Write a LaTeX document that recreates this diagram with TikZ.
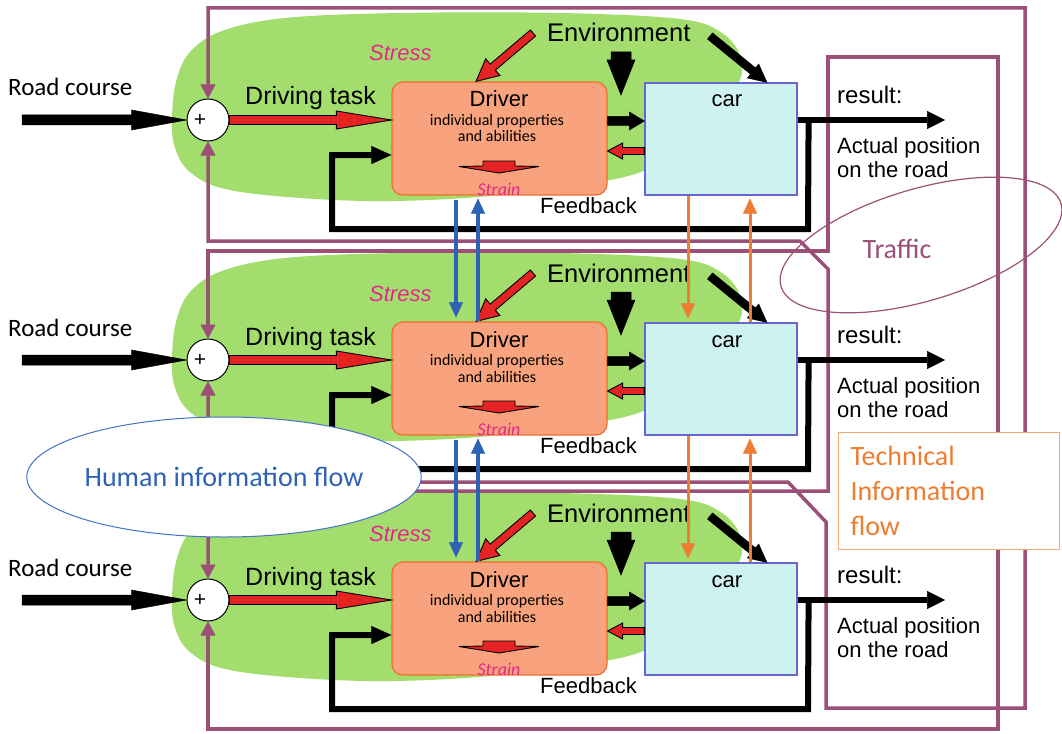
\documentclass[tikz,border=0pt]{standalone}
\usepackage{fontspec}
\setmainfont{Liberation Sans}
\newfontfamily\calfont{Carlito}
\usetikzlibrary{arrows.meta,calc,shapes.geometric}

\definecolor{purp}{RGB}{155,80,120}
\definecolor{leaf}{RGB}{163,221,110}
\definecolor{drvfill}{RGB}{248,163,125}
\definecolor{drvline}{RGB}{242,110,45}
\definecolor{carfill}{RGB}{205,242,239}
\definecolor{carline}{RGB}{102,102,204}
\definecolor{redarr}{RGB}{228,36,36}
\definecolor{mag}{RGB}{228,40,140}
\definecolor{hblue}{RGB}{46,98,181}
\definecolor{hline}{RGB}{68,114,196}
\definecolor{torange}{RGB}{237,125,49}
\definecolor{tline}{RGB}{246,170,115}

\tikzset{
  % filled block arrow drawn as a polygon from start to target:
  % #1 = half shaft width, #2 = half head width, #3 = head length (pt)
  blockarrow/.style n args={3}{to path={
    let \p1=(\tikztostart), \p2=(\tikztotarget),
        \n1={atan2(\y2-\y1,\x2-\x1)}, \n2={veclen(\x2-\x1,\y2-\y1)} in
    {[shift={(\p1)}, rotate=\n1]
      (0pt,#1pt) -- ({\n2-#3pt},#1pt) -- ({\n2-#3pt},#2pt) -- ({\n2+0pt},0pt)
      -- ({\n2-#3pt},-#2pt) -- ({\n2-#3pt},-#1pt) -- (0pt,-#1pt) -- cycle}}},
  solidarrow/.style={draw=black, fill=black, line width=0.5pt, line join=miter},
  outlinedarrow/.style={draw=black, fill=redarr, line width=0.9pt, line join=miter},
  sumc/.style={circle, draw=black, line width=1pt, fill=white, minimum size=42pt, inner sep=0pt},
  drvbox/.style={rectangle, rounded corners=11pt, draw=drvline, fill=drvfill, line width=1.2pt,
                 minimum width=215pt, minimum height=113pt, inner sep=0pt},
  carbox/.style={rectangle, draw=carline, fill=carfill, line width=1.2pt,
                 minimum width=152pt, minimum height=112pt, inner sep=0pt},
  purpline/.style={draw=purp, line width=3.5pt, line join=miter,
                   {Triangle[length=14pt,width=15pt,line width=0.5pt]}-{Triangle[length=14pt,width=15pt,line width=0.5pt]}},
  fbline/.style={line width=6pt, line join=miter, -{Triangle[length=20pt,width=18pt,line width=0.5pt]}},
  resline/.style={line width=6pt, -{Triangle[length=18pt,width=18pt,line width=0.5pt]}},
  bluearr/.style={draw=hblue, line width=3.5pt, -{Triangle[length=15pt,width=14pt,line width=0.5pt]}},
  orangearr/.style={draw=torange, line width=3pt, -{Triangle[length=15pt,width=14pt,line width=0.5pt]}},
  txt/.style={inner sep=0pt},
}

\begin{document}
\begin{tikzpicture}[x=1pt,y=-1pt]
\useasboundingbox (0,0) rectangle (1062,733);
\fill[white] (0,0) rectangle (1062,733);

% green "stress" areas behind each control loop
\foreach \k in {0,1,2}{
  \fill[leaf, shift={(0,240*\k)}] plot[smooth cycle, tension=0.6] coordinates {
    (172,120) (176,82) (190,52) (222,31) (285,18) (400,13) (560,13) (680,19)
    (722,33) (741,58) (737,86) (705,125) (665,158) (620,178) (500,195)
    (393,201) (300,198) (225,189) (190,172) (175,148)};
}

% summing points, drivers and cars
\foreach \k in {0,1,2}{
  \pgfmathsetmacro\dy{240*\k}
  \node[sumc] (sum\k) at (208,{120+\dy}) {};
  \node[drvbox] (drv\k) at (499.5,{138.5+\dy}) {};
  \node[carbox] (car\k) at (721,{139+\dy}) {};
}

% traffic coupling between the three loops
\draw[purpline] (sum0.north) -- (208,8) -- (1025,8) -- (1025,708) -- (826,708)
  -- (826,522) -- (788,482) -- (208,482) -- (sum1.south);
\draw[purpline] (sum0.south) -- (208,241) -- (800,241) -- (828,269)
  -- (828,491) -- (208,491) -- (sum2.north);
\draw[purpline] (sum1.north) -- (208,251) -- (828,251) -- (828,57)
  -- (998,57) -- (998,729) -- (208,729) -- (sum2.south);

% one driver-car control loop
\foreach \k in {0,1,2}{
  \pgfmathsetmacro\dy{240*\k}
  \coordinate (rc\k) at (22,{120+\dy});
  \coordinate (res\k) at (945,{120+\dy});
  \coordinate (envr\k) at (533,{33+\dy});
  \coordinate (envd\k) at (621,{52+\dy});
  \coordinate (envdt\k) at (621,{95+\dy});
  \coordinate (envc\k) at (710,{36+\dy});

  \node[txt, font=\fontsize{21}{24}\selectfont] (plus\k) at (200,{120+\dy}) {+};

  \draw[solidarrow, blockarrow={5}{10}{55}] (rc\k) to (sum\k.west);
  \draw[outlinedarrow, blockarrow={4.5}{9}{55}] (sum\k.east) to ([yshift=18.5pt]drv\k.west);

  \draw[resline] ([yshift=19pt]car\k.east) -- (res\k);
  \draw[fbline] ([xshift=11pt,yshift=19pt]car\k.east) -- (808,{229+\dy}) -- (332,{229+\dy})
    -- (332,{155+\dy}) -- ([yshift=-16.5pt]drv\k.west);

  \draw[outlinedarrow, blockarrow={4}{11}{22}] (envr\k) to ([xshift=-23.5pt]drv\k.north);
  \draw[solidarrow, blockarrow={10}{14}{35}] (envd\k) to (envdt\k);
  \draw[solidarrow, blockarrow={4}{9}{18}] (envc\k) to ([xshift=46pt]car\k.north);

  \draw[solidarrow, blockarrow={4.5}{9}{15}] ([yshift=17.5pt]drv\k.east) to ([yshift=18pt]car\k.west);
  \draw[outlinedarrow, blockarrow={3.5}{8}{15}] ([yshift=-12pt]car\k.west) to ([yshift=-12.5pt]drv\k.east);

  % strain arrow inside the driver box
  \draw[outlinedarrow] (483,{161+\dy}) -- (515,{161+\dy}) -- (515,{166+\dy}) -- (539,{166.5+\dy})
    -- (499,{173+\dy}) -- (459,{166.5+\dy}) -- (483,{166+\dy}) -- cycle;

  \node[txt, font=\calfont\fontsize{25}{28}\selectfont, anchor=base west] (road\k) at (8,{96+\dy}) {Road course};
  \node[txt, font=\fontsize{25}{30}\selectfont, anchor=base west] (task\k) at (245,{105+\dy}) {Driving task};
  \node[txt, font=\itshape\fontsize{22}{26}\selectfont, text=mag, anchor=base west] (stress\k) at (369,{61+\dy}) {Stress};
  \node[txt, font=\fontsize{25.5}{30}\selectfont, anchor=base west] (env\k) at (547,{42+\dy}) {Environment};
  \node[txt, font=\fontsize{22}{26}\selectfont, anchor=base] (dname\k) at (499,{107+\dy}) {Driver};
  \node[txt, font=\calfont\fontsize{16}{18}\selectfont, anchor=base] (prop\k) at (497,{125+\dy}) {individual properties};
  \node[txt, font=\calfont\fontsize{16}{18}\selectfont, anchor=base] (abil\k) at (497,{142+\dy}) {and abilities};
  \node[txt, font=\calfont\itshape\fontsize{18}{20}\selectfont, text=mag, anchor=base] (strain\k) at (499,{195+\dy}) {Strain};
  \node[txt, font=\fontsize{22}{26}\selectfont, anchor=base] (ctext\k) at (727,{107+\dy}) {car};
  \node[txt, font=\fontsize{24}{28}\selectfont, anchor=base west] (resl\k) at (837,{103+\dy}) {result:};
  \node[txt, font=\fontsize{22}{24}\selectfont, anchor=north west, align=left] (pos\k) at (837,{137+\dy}) {Actual position\\on the road};
  \node[txt, font=\fontsize{22}{26}\selectfont, anchor=base west] (fb\k) at (540,{213+\dy}) {Feedback};
}

% information exchanged between neighbouring loops
\foreach \k/\j in {0/1,1/2}{
  \draw[bluearr, shorten <=4pt, shorten >=4pt] ([xshift=-43.5pt]drv\k.south) -- ([xshift=-43.5pt]drv\j.north);
  \draw[bluearr, shorten >=3pt] ([xshift=-21.5pt]drv\j.north) -- ([xshift=-21.5pt]drv\k.south);
  \draw[orangearr, shorten >=4pt] ([xshift=-33pt]car\k.south) -- ([xshift=-33pt]car\j.north);
  \draw[orangearr, shorten >=3pt] ([xshift=29pt]car\j.north) -- ([xshift=29pt]car\k.south);
}

% annotations
\node[ellipse, draw=hline, fill=white, line width=1pt, minimum width=394pt, minimum height=120pt,
      inner sep=0pt, text=hblue, font=\calfont\fontsize{28}{32}\selectfont] (human) at (224,477) {Human information flow};

\node[ellipse, draw=purp, line width=1.2pt, rotate=16.5, minimum width=292pt, minimum height=112pt,
      inner sep=0pt] (traffic) at (921,245) {};
\node[txt, text=purp, font=\calfont\fontsize{28}{32}\selectfont, anchor=base] (traffictxt) at (897,258) {Traffic};

\node[draw=tline, fill=white, line width=1pt, minimum width=221pt, minimum height=117pt,
      anchor=north west, align=left, text width=197pt, inner xsep=12pt, inner ysep=0pt,
      text=torange, font=\calfont\fontsize{28}{35}\selectfont] (tech) at (838,432) {Technical\\Information\\flow};
\end{tikzpicture}
\end{document}
